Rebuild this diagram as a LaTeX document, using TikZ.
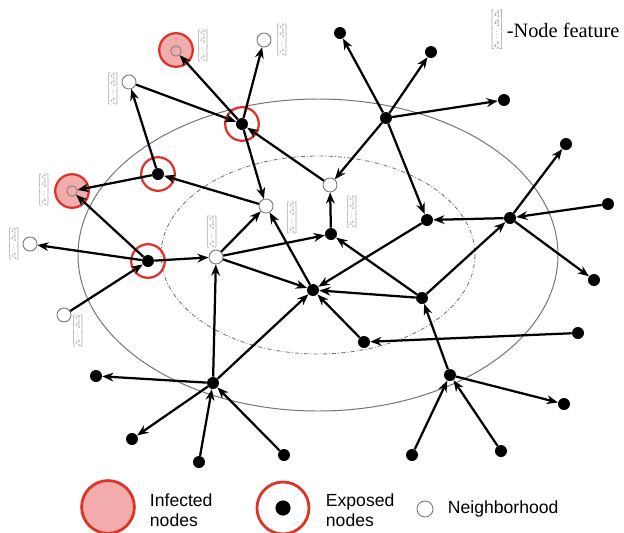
\documentclass[tikz,border=0pt]{standalone}
\usepackage{amsmath}
\usepackage{fontspec}
\setmainfont{Liberation Serif}
\newfontfamily\legendfont{Liberation Sans}
\usetikzlibrary{arrows.meta}
\usetikzlibrary{positioning}

\definecolor{ringred}{RGB}{221,52,40}
\definecolor{infpink}{RGB}{242,172,172}
\definecolor{featgray}{RGB}{80,80,80}

\newcommand{\featvec}[2]{\resizebox*{#1}{#2}{$\left[\begin{matrix} x_1^k\\ x_2^k\\ \vdots\\ x_n^k \end{matrix}\right]$}}

\begin{document}
\begin{tikzpicture}[x=0.25mm, y=-0.25mm,
    blk/.style={circle, fill=black, inner sep=0pt, minimum size=3mm},
    nbr/.style={circle, draw=black!55, fill=white, line width=0.6pt, inner sep=0pt, minimum size=3.5mm},
    ring/.style={circle, draw=ringred, line width=1.6pt, inner sep=0pt, minimum size=8.4mm},
    inf/.style={ring, fill=infpink},
    core/.style={circle, draw=black!50, inner sep=0pt, minimum size=2.6mm, line width=0.6pt},
    feat/.style={text=featgray, inner sep=0pt},
    link/.style={line width=1.6pt, -{Stealth[length=2.8mm, width=2.2mm]}},
    lgd/.style={font=\legendfont\fontsize{12.5}{14.5}\selectfont, align=left, anchor=west}]
      \useasboundingbox (0,0) rectangle (624,533);

      % neighbourhood rings
      \draw [black!55, line width=0.7pt] (318,255) ellipse [x radius=240, y radius=156];
      \draw [black!55, line width=0.6pt, dash pattern=on 3pt off 1.5pt on 0.6pt off 1.5pt]
        (318,255) ellipse [x radius=157, y radius=99];

      % infected and exposed nodes
      \node [inf] (i1r) at (176, 50) {}; \node [core] (i1) at (176, 51) {};
      \node [inf] (i2r) at (72, 191) {}; \node [core] (i2) at (72, 191) {};
      \node [ring] (e1r) at (242, 124) {}; \node [blk] (e1) at (242, 124) {};
      \node [ring] (e2r) at (158, 174) {}; \node [blk] (e2) at (158, 174) {};
      \node [ring] (e3r) at (148, 261) {}; \node [blk] (e3) at (148, 261) {};

      % neighbourhood nodes
      \node [nbr] (n1) at (264, 40) {}; \node [nbr] (n2) at (129, 82) {};
      \node [nbr] (n3) at (266, 206) {}; \node [nbr] (n4) at (216, 257) {};
      \node [nbr] (n5) at (330, 185) {}; \node [nbr] (n6) at (30, 244) {};
      \node [nbr] (n7) at (64, 315) {};

      % other nodes
      \node [blk] (b1) at (386, 118) {}; \node [blk] (b2) at (340, 33) {};
      \node [blk] (b3) at (431, 52) {}; \node [blk] (b4) at (504, 100) {};
      \node [blk] (b5) at (427, 220) {}; \node [blk] (b6) at (510, 218) {};
      \node [blk] (b7) at (566, 144) {}; \node [blk] (b8) at (608, 204) {};
      \node [blk] (b9) at (331, 234) {}; \node [blk] (b10) at (313, 290) {};
      \node [blk] (b11) at (422, 298) {}; \node [blk] (b12) at (364, 342) {};
      \node [blk] (b13) at (578, 333) {}; \node [blk] (b14) at (594, 280) {};
      \node [blk] (b15) at (450, 375) {}; \node [blk] (b16) at (564, 404) {};
      \node [blk] (b17) at (412, 455) {}; \node [blk] (b18) at (501, 451) {};
      \node [blk] (b19) at (213, 383) {}; \node [blk] (b20) at (96, 376) {};
      \node [blk] (b21) at (132, 439) {}; \node [blk] (b22) at (199, 462) {};
      \node [blk] (b23) at (284, 455) {};

      % feature vectors
      \node [feat] (fi1) at (203, 46) {\featvec{3mm}{8mm}}; \node [feat] (fn1) at (282, 40) {\featvec{3mm}{8mm}};
      \node [feat] (fn2) at (113, 89) {\featvec{3mm}{8mm}}; \node [feat] (fi2) at (44, 190) {\featvec{3mm}{8mm}};
      \node [feat] (fn6) at (14, 244) {\featvec{3mm}{8mm}}; \node [feat] (fn4) at (212, 232) {\featvec{3mm}{8mm}};
      \node [feat] (fn3) at (292, 218) {\featvec{3mm}{8mm}}; \node [feat] (fn5) at (352, 212) {\featvec{3mm}{8mm}};
      \node [feat] (fn7) at (78, 331) {\featvec{3mm}{8mm}};

      \path [link]
      (e1) edge (i1)  (e1) edge (n1)  (n2) edge (e1)  (n5) edge (e1)  (e1) edge (n3)
      (e2) edge (n2)  (e2) edge (i2)  (n3) edge (e2)
      (e3) edge (i2)  (e3) edge (n6)  (n7) edge (e3)  (e3) edge (n4)
      (n4) edge (n3)  (n4) edge (b9)  (n4) edge (b10) (b10) edge (n3) (b9) edge (n5)
      (b1) edge (b2)  (b1) edge (b3)  (b1) edge (b4)  (b1) edge (n5)  (b1) edge (b5)
      (b6) edge (b5)  (b6) edge (b7)  (b8) edge (b6)  (b6) edge (b14) (b11) edge (b6)
      (b5) edge (b10) (b11) edge (b10) (b11) edge (b9) (b12) edge (b10) (b13) edge (b12)
      (b15) edge (b11) (b15) edge (b16) (b17) edge (b15) (b18) edge (b15)
      (b19) edge (b20) (b19) edge (b21) (b22) edge (b19) (b23) edge (b19)
      (b19) edge (n4) (b19) edge (b10);

      % legend
      \node [feat] (fk) at (497, 30) {\featvec{3.4mm}{10mm}};
      \node [right=0.6mm of fk, inner sep=0pt, font=\fontsize{14.5}{17}\selectfont] (fktxt) {-Node feature};
      \node [inf, minimum size=13.2mm, line width=2pt] (li) at (108, 507) {};
      \node [lgd] (lit) at (145, 510) {Infected\\nodes};
      \node [ring, minimum size=13mm, line width=2pt] (ler) at (283, 508) {};
      \node [blk, minimum size=3.8mm] (le) at (283, 508) {};
      \node [lgd] (let) at (321, 510) {Exposed\\nodes};
      \node [nbr, minimum size=4mm] (ln) at (425, 509) {};
      \node [lgd] (lnt) at (443, 509) {Neighborhood};
    \end{tikzpicture}
\end{document}
